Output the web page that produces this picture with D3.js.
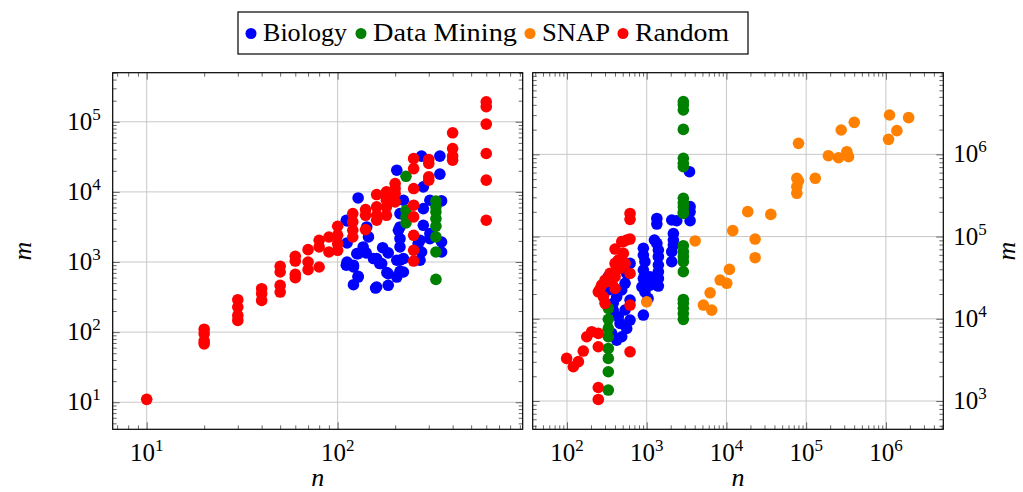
<!DOCTYPE html>
<html>
<head>
<meta charset="utf-8">
<script src="https://cdn.jsdelivr.net/npm/d3@7"></script>
<style>
body { margin: 0; background: #fff; }
text { font-family: "Liberation Serif", "DejaVu Serif", serif; fill: #000; }
</style>
</head>
<body>
<svg id="chart" width="1023" height="492"></svg>
<script>
// series names + colours, same order as the legend
const categories = ['Biology', 'Data Mining', 'SNAP', 'Random']
const colors = ['#0000ff', '#008000', '#ff8000', '#ff0000']

// left panel: [n, m]
const leftBiology = [
    [128, 8200], [112, 3850], [112, 1870], [128, 1315], [112, 1000], [121, 850], [128, 610], [121, 475],
    [141, 1350], [145, 2280], [142, 3160], [158, 425], [172, 1600], [184, 1350], [160, 1120], [170, 950],
    [181, 705], [184, 465], [204, 610], [204, 1060], [221, 1120], [221, 720], [212, 1640], [212, 2150],
    [208, 2830], [204, 20400], [221, 7600], [225, 4640], [275, 32400], [343, 32400], [343, 17900],
    [281, 11800], [281, 5780], [281, 3340], [264, 1830], [270, 1060], [304, 7600], [350, 7440],
    [304, 2540], [350, 1930], [350, 1390], [304, 2150], [181, 8040], [111, 3940], [212, 4900],
    [212, 3160], [270, 2040], [275, 1390], [136, 1640], [126, 1315], [111, 900], [121, 900], [128, 625],
    [154, 1120], [166, 950], [184, 680], [212, 736], [212, 1060], [160, 440]
]
const leftDataMining = [
    [228, 16700], [228, 5470], [228, 4400], [228, 3600], [327, 7430], [327, 6110], [327, 5180],
    [327, 4160], [327, 3240], [327, 2280], [327, 1390], [327, 565]
]
const leftSnap = []
const leftRandom = [
    [10, 11],
    [20, 110], [20, 95], [20, 75], [20, 68],
    [30, 290], [30, 228], [30, 173], [30, 147],
    [40, 416], [40, 353], [40, 283],
    [50, 867], [50, 720], [50, 464], [50, 373],
    [60, 1205], [60, 1032], [60, 667], [60, 598],
    [70, 1500], [70, 1000], [70, 777],
    [80, 2040], [80, 1637], [80, 849],
    [90, 2275], [90, 1390],
    [100, 3236], [100, 2404], [100, 1828], [100, 1468],
    [120, 4900], [120, 3727], [120, 2834], [120, 2275],
    [140, 5600], [140, 4640], [140, 2900],
    [160, 9160], [160, 6110], [160, 4640], [160, 3940],
    [180, 10000], [180, 7600], [180, 6110], [180, 4640],
    [200, 13150], [200, 11160], [200, 9460], [200, 7200],
    [250, 29900], [250, 21500], [250, 11160], [250, 6460], [250, 4400], [250, 2404], [250, 1468], [250, 1032],
    [300, 29000], [300, 25400], [300, 16400], [300, 14700],
    [400, 69600], [400, 41600], [400, 32400], [400, 28300],
    [600, 193000], [600, 164000], [600, 92600], [600, 35300], [600, 14700], [600, 3940]
]

// right panel: [n, m]
const rightBiology = [
    [3440, 615000], [3500, 231000], [3500, 200000], [3500, 156000], [1340, 166000], [1340, 142000],
    [2060, 159000], [2380, 156000], [2160, 109000], [2160, 90800], [2160, 78900], [2060, 65500],
    [2060, 49500], [1250, 90800], [1340, 82600], [1400, 68500], [1400, 56900], [1400, 45100],
    [1400, 37400], [1400, 31000], [1400, 25000], [908, 71900], [908, 59600], [950, 49500], [908, 39200],
    [908, 31000], [870, 24500], [950, 21300], [1040, 17700], [908, 11100], [1100, 32500], [1100, 25700],
    [618, 47200], [561, 35600], [535, 27000], [486, 22400], [618, 16900], [535, 12800], [618, 9660],
    [561, 7640], [486, 6050], [420, 5510], [364, 6640], [330, 32500], [364, 27000], [330, 22400],
    [380, 15400], [380, 12800], [420, 18500], [440, 10600], [463, 8790]
]
const rightDataMining = [
    [2880, 4380000], [2880, 3980000], [2880, 3460000], [2880, 2010000], [2880, 894000], [2880, 778000],
    [2880, 708000], [2880, 292000], [2880, 258000], [2880, 231000], [2880, 200000], [2880, 191000],
    [2880, 77400], [2880, 65500], [2880, 56900], [2880, 49500], [2880, 37400], [2880, 17200],
    [2880, 15400], [2880, 13400], [2880, 11600], [2880, 9840],
    [330, 13400], [330, 9840], [330, 7640], [330, 6050], [330, 4360], [330, 3300], [330, 2270], [330, 1360]
]
const rightSnap = [
    [1000, 16100], [4050, 88400], [5140, 14700], [6540, 12760], [6240, 20700], [8340, 29600],
    [10100, 27000], [10900, 39900], [12000, 118000], [18500, 201000], [22900, 93300], [22900, 55300],
    [36000, 186000], [76400, 511000], [80200, 474000], [76400, 404000], [76400, 336000], [80200, 1361000],
    [130000, 511000], [190000, 963000], [255000, 910000], [324000, 1077000], [340000, 937000],
    [275000, 1977000], [401000, 2450000], [1080000, 1521000], [1374000, 1941000], [1111000, 3010000],
    [1928000, 2795000]
]
const rightRandom = [
    [99, 3300], [120, 2610], [139, 3010], [160, 4050], [177, 6050], [204, 6970], [247, 6640], [247, 4570],
    [247, 1460], [247, 1045], [247, 21300], [272, 25700], [300, 29600], [300, 15400], [347, 35700],
    [401, 47200], [401, 70500], [463, 41000], [509, 62500], [509, 86700], [618, 93300], [618, 191000],
    [618, 162000], [618, 14700], [618, 3970], [441, 51800], [535, 47200], [420, 41000], [618, 35600],
    [401, 32500], [364, 28200], [315, 28200], [259, 22800], [401, 23400], [286, 18500], [486, 86700],
    [561, 90800]
]

const svg = d3.select('#chart')

function drawPanel(cfg) {
    let w = cfg.width, h = cfg.height

    let x = d3.scaleLog().domain(cfg.xDomain).range([0, w])
    let y = d3.scaleLog().domain(cfg.yDomain).range([h, 0])

    let g = svg.append('g').attr('transform', `translate(${cfg.left},${cfg.top})`)

    // decades and 2..9 minors inside the domain
    let decades = (dom) => {
        let out = []
        for (let e = Math.floor(Math.log10(dom[0])); e <= Math.ceil(Math.log10(dom[1])); e++) out.push(e)
        return out
    }
    let inside = (v, dom) => v >= dom[0] && v <= dom[1]
    let majors = (dom) => decades(dom).map(e => 10 ** e).filter(v => inside(v, dom))
    let minors = (dom) => {
        let out = []
        decades(dom).forEach(e => d3.range(2, 10).forEach(k => { if (inside(k * 10 ** e, dom)) out.push(k * 10 ** e) }))
        return out
    }
    let xMaj = majors(cfg.xDomain), yMaj = majors(cfg.yDomain)
    let xMin = minors(cfg.xDomain), yMin = minors(cfg.yDomain)

    // grid
    g.append('g').selectAll('line').data(xMaj).join('line')
        .attr('x1', d => x(d)).attr('x2', d => x(d)).attr('y1', 0).attr('y2', h)
        .attr('stroke', '#c8c8c8').attr('stroke-width', 1)
    g.append('g').selectAll('line').data(yMaj).join('line')
        .attr('y1', d => y(d)).attr('y2', d => y(d)).attr('x1', 0).attr('x2', w)
        .attr('stroke', '#c8c8c8').attr('stroke-width', 1)

    // ticks on all four sides, pointing inwards
    let tickAxis = (axis, vals, size, transform) => {
        g.append('g').attr('transform', transform)
            .call(axis.tickValues(vals).tickSize(-size).tickFormat(''))
            .call(a => a.select('.domain').remove())
            .selectAll('line').attr('stroke', '#444').attr('stroke-width', 0.8)
    }
    tickAxis(d3.axisBottom(x), xMaj, 7, `translate(0,${h})`)
    tickAxis(d3.axisBottom(x), xMin, 4, `translate(0,${h})`)
    tickAxis(d3.axisTop(x), xMaj, 7, 'translate(0,0)')
    tickAxis(d3.axisTop(x), xMin, 4, 'translate(0,0)')
    tickAxis(d3.axisLeft(y), yMaj, 7, 'translate(0,0)')
    tickAxis(d3.axisLeft(y), yMin, 4, 'translate(0,0)')
    tickAxis(d3.axisRight(y), yMaj, 7, `translate(${w},0)`)
    tickAxis(d3.axisRight(y), yMin, 4, `translate(${w},0)`)

    // points, Random last so it sits on top
    cfg.series.forEach((data, i) => {
        g.append('g').selectAll('circle').data(data).join('circle')
            .attr('cx', d => x(d[0]))
            .attr('cy', d => y(d[1]))
            .attr('r', 5.8)
            .attr('fill', colors[i])
    })

    g.append('rect').attr('width', w).attr('height', h)
        .attr('fill', 'none').attr('stroke', '#000').attr('stroke-width', 1.2)

    // 10^k labels
    let power = (sel) => {
        sel.append('tspan').text('10')
        sel.append('tspan').attr('dy', -10).attr('font-size', 17).text(d => Math.round(Math.log10(d)))
    }
    g.append('g').selectAll('text').data(xMaj).join('text')
        .attr('x', d => x(d)).attr('y', h + 32)
        .attr('text-anchor', 'middle').attr('font-size', 25)
        .call(power)

    let onRight = cfg.yLabelSide == 'right'
    g.append('g').selectAll('text').data(yMaj).join('text')
        .attr('x', onRight ? w + 10 : -12).attr('y', d => y(d) + 8)
        .attr('text-anchor', onRight ? 'start' : 'end').attr('font-size', 25)
        .call(power)

    g.append('text')
        .attr('x', w / 2).attr('y', h + 57)
        .attr('text-anchor', 'middle').attr('font-size', 26).attr('font-style', 'italic')
        .text('n')
    g.append('text')
        .attr('transform', `translate(${onRight ? w + 72 : -82},${h / 2}) rotate(-90)`)
        .attr('text-anchor', 'middle').attr('font-size', 26).attr('font-style', 'italic')
        .text('m')
}

drawPanel({
    left: 112.7, top: 72.7, width: 410, height: 356.6,
    xDomain: [10 ** 0.822, 10 ** 2.969], yDomain: [10 ** 0.614, 10 ** 5.7],
    yLabelSide: 'left',
    series: [leftBiology, leftDataMining, leftSnap, leftRandom]
})
drawPanel({
    left: 532.7, top: 72.7, width: 410.6, height: 356.6,
    xDomain: [10 ** 1.57, 10 ** 6.72], yDomain: [10 ** 2.656, 10 ** 6.993],
    yLabelSide: 'right',
    series: [rightBiology, rightDataMining, rightSnap, rightRandom]
})

// legend
let legend = svg.append('g').attr('transform', 'translate(238,12)')
legend.append('rect').attr('width', 510).attr('height', 42)
    .attr('fill', '#fff').attr('stroke', '#000').attr('stroke-width', 1.2)
let lx = [13, 123, 292, 385]
let lw = [84, 144, 68, 94]
categories.forEach((c, i) => {
    legend.append('circle').attr('cx', lx[i]).attr('cy', 21.5).attr('r', 5.5).attr('fill', colors[i])
    legend.append('text').attr('x', lx[i] + 12).attr('y', 29).attr('font-size', 25)
        .attr('textLength', lw[i]).attr('lengthAdjust', 'spacingAndGlyphs')
        .text(c)
})
</script>
</body>
</html>
